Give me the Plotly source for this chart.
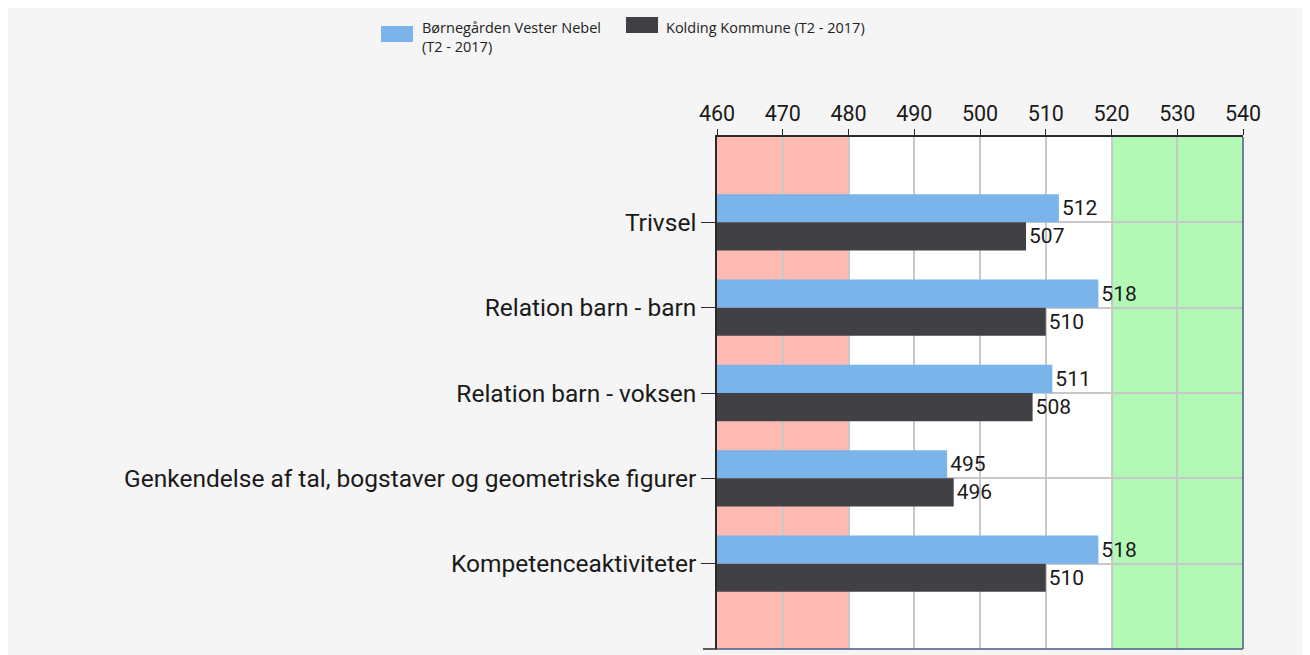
import plotly.graph_objects as go

categories = [
    "Trivsel",
    "Relation barn - barn",
    "Relation barn - voksen",
    "Genkendelse af tal, bogstaver og geometriske figurer",
    "Kompetenceaktiviteter",
]
series_names = ["Børnegården Vester Nebel<br>(T2 - 2017)", "Kolding Kommune (T2 - 2017)"]
series_colors = ["#7ab4ea", "#414045"]
vester_nebel = [512, 518, 511, 495, 518]
kolding = [507, 510, 508, 496, 510]
x_ticks = [460, 470, 480, 490, 500, 510, 520, 530, 540]
red_band = (460, 480)
green_band = (520, 540)

W, H = 1310, 655
ML, MR, MT, MB = 709, 75, 129, 14
PW, PH = W - ML - MR, H - MT - MB

FONT = "Roboto, Liberation Sans, Arial"


def px_x(fx):
    return (fx - ML) / PW


def px_y(fy):
    return 1 - (fy - MT) / PH


fig = go.Figure()
for vals, name, col in [(vester_nebel, series_names[0], series_colors[0]),
                        (kolding, series_names[1], series_colors[1])]:
    fig.add_trace(go.Bar(
        y=categories, x=vals, orientation="h", name=name,
        marker=dict(color=col, line=dict(width=0)),
        text=[str(v) for v in vals], textposition="outside",
        textfont=dict(size=21, color="#1a1a1a", family=FONT),
        cliponaxis=False, showlegend=False,
    ))

fig.add_shape(type="rect", xref="x", yref="paper", x0=red_band[0], x1=red_band[1], y0=0, y1=1,
              fillcolor="#ffbbb3", line=dict(width=0), layer="below")
fig.add_shape(type="rect", xref="x", yref="paper", x0=green_band[0], x1=green_band[1], y0=0, y1=1,
              fillcolor="#b3f9b6", line=dict(width=0), layer="below")

# right and bottom frame (bluish, as in the reference)
frame_col = "#4a5a86"
fig.add_shape(type="line", xref="paper", yref="paper", x0=1, x1=1, y0=0, y1=1,
              line=dict(color=frame_col, width=1.5))
fig.add_shape(type="line", xref="paper", yref="paper", x0=0, x1=1, y0=0, y1=0,
              line=dict(color=frame_col, width=1.5))
# tick at the bottom end of the category axis
fig.add_shape(type="line", xref="paper", yref="paper", x0=px_x(ML - 14), x1=0, y0=0, y1=0,
              line=dict(color="#2a2a2a", width=1.5))

# manual legend (wide swatches like the reference)
legend_items = [
    (series_names[0], series_colors[0], 373, 18, 412, 8),
    (series_names[1], series_colors[1], 618, 9, 656, 8),
]
for name, col, sx, sy, tx, ty in legend_items:
    fig.add_shape(type="rect", xref="paper", yref="paper",
                  x0=px_x(sx), x1=px_x(sx + 32), y0=px_y(sy), y1=px_y(sy + 16),
                  fillcolor=col, line=dict(width=0))
    fig.add_annotation(xref="paper", yref="paper", x=px_x(tx), y=px_y(ty),
                       xanchor="left", yanchor="top", align="left", showarrow=False,
                       text=name, font=dict(size=14.5, family="Open Sans, Liberation Sans", color="#222"))

fig.update_layout(
    width=W, height=H,
    margin=dict(l=ML, r=MR, t=MT, b=MB, pad=0),
    paper_bgcolor="#f5f5f5",
    plot_bgcolor="#ffffff",
    barmode="group",
    bargap=0.34,
    bargroupgap=0,
    showlegend=False,
    font=dict(family=FONT, size=18, color="#1a1a1a"),
    xaxis=dict(
        side="top", range=[460, 540], tickvals=x_ticks, ticktext=[str(t) for t in x_ticks],
        showgrid=True, gridcolor="#c8c8c8", gridwidth=1.5,
        showline=True, linecolor="#2a2a2a", linewidth=1.5, mirror=False,
        ticks="outside", ticklen=6, tickcolor="#2a2a2a",
        tickfont=dict(size=21.5), zeroline=False, fixedrange=True,
    ),
    yaxis=dict(
        type="category", categoryorder="array", categoryarray=categories,
        range=[len(categories), -1],
        showgrid=True, gridcolor="#c8c8c8", gridwidth=1.5,
        showline=True, linecolor="#2a2a2a", linewidth=1.5, mirror=False,
        ticks="outside", ticklen=14, tickcolor="#2a2a2a",
        tickfont=dict(size=24.5), fixedrange=True,
    ),
)

fig.write_html("out.html")
